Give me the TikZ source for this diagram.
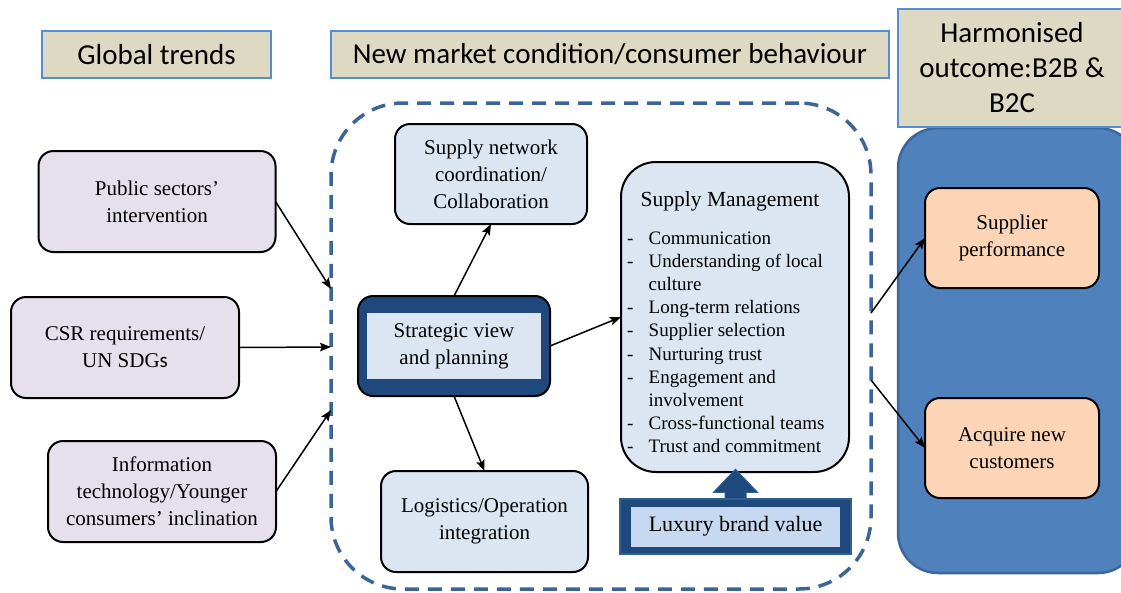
\documentclass[tikz,border=0pt]{standalone}
\usepackage{fontspec}
\setmainfont{Liberation Serif}
\newfontfamily\headfont{Carlito}
\usetikzlibrary{arrows.meta,calc}
\definecolor{hdrfill}{HTML}{DDD9C3}
\definecolor{hdrline}{HTML}{558ED5}
\definecolor{lav}{HTML}{E5E0EC}
\definecolor{lblue}{HTML}{DCE6F2}
\definecolor{dblue}{HTML}{1F497D}
\definecolor{frameblue}{HTML}{3C6496}
\definecolor{midblue}{HTML}{4F81BD}
\definecolor{midline}{HTML}{3A679C}
\definecolor{peach}{HTML}{FBD5B5}
\definecolor{luxin}{HTML}{C6D9F1}
\definecolor{luxline}{HTML}{2F5F93}
\begin{document}
\begin{tikzpicture}[x=1pt,y=-1pt,
  hdr/.style={draw=hdrline,fill=hdrfill,line width=2pt,font=\headfont\fontsize{29}{35}\selectfont,align=center,inner sep=0pt,outer sep=0pt},
  box/.style={draw=black,line width=2pt,rounded corners=15pt,align=center,font=\fontsize{21}{27}\selectfont,inner sep=0pt,outer sep=0pt},
  listfont/.style={font=\fontsize{19}{23}\selectfont,inner sep=0pt,anchor=base west},
  arr/.style={line width=1.5pt,-{Stealth[length=11pt,width=8.5pt,inset=2pt]}},
]
\useasboundingbox (0,0) rectangle (1121,592);

% right panel
\node[draw=midline,fill=midblue,line width=2.5pt,rounded corners=40pt,minimum width=240pt,minimum height=445pt] (panel) at (1018,350.5) {};

% headers
\node[hdr,minimum width=229pt,minimum height=47pt] (gt) at (156.5,54.5) {Global trends};
\node[hdr,minimum width=558pt,minimum height=47pt] (nm) at (610,54.5) {New market condition/consumer behaviour};
\node[hdr,minimum width=228pt,minimum height=118pt] (ho) at (1012,68) {Harmonised\\outcome:B2B \&\\B2C};

% dashed frame
\node[draw=frameblue,line width=3.5pt,dash pattern=on 14pt off 9pt,rounded corners=72pt,minimum width=540pt,minimum height=486pt] (frame) at (601,346) {};

% left boxes
\node[box,fill=lav,minimum width=237pt,minimum height=101pt] (pub) at (157,201.5) {Public sectors'\\intervention};
\node[box,fill=lav,minimum width=228pt,minimum height=101pt] (csr) at (125,347.5) {CSR requirements/\\UN SDG{\headfont s}};
\node[box,fill=lav,minimum width=228pt,minimum height=101pt] (info) at (162,491.5) {Information\\technology/Younger\\consumers' inclination};

% centre boxes
\node[box,fill=lblue,minimum width=192pt,minimum height=100pt] (snc) at (491,174) {Supply network\\coordination/\\Collaboration};
\node[box,fill=dblue,minimum width=192pt,minimum height=100pt] (strat) at (454,346) {};
\node[fill=lblue,minimum width=174pt,minimum height=66pt,inner sep=0pt,align=center,font=\fontsize{21}{27}\selectfont] (stratin) at (strat.center) {Strategic view\\and planning};
\node[box,fill=lblue,minimum width=207pt,minimum height=101pt] (log) at (484.5,521.5) {Logistics/Operation\\integration};

% supply management
\node[box,fill=lblue,rounded corners=35pt,minimum width=228pt,minimum height=310pt] (sm) at (735,317) {};
\node[font=\fontsize{21.5}{24}\selectfont,inner sep=0pt] (smtitle) at (730,201) {Supply Management};
\foreach \d/\t [count=\i] in {-/Communication,-/Understanding of local,/culture,-/Long-term relations,-/Supplier selection,-/Nurturing trust,-/Engagement and,/involvement,-/Cross-functional teams,-/Trust and commitment}{
  \node[listfont] (dash\i) at (627,{244+23.2*(\i-1)}) {\d};
  \node[listfont] (item\i) at (648.5,{244+23.2*(\i-1)}) {\t};
}

% luxury brand value
\node[draw=luxline,fill=dblue,line width=1.5pt,minimum width=231pt,minimum height=55pt,inner sep=0pt] (lux) at (735.5,526.5) {};
\node[fill=luxin,minimum width=209pt,minimum height=40pt,inner sep=0pt,font=\fontsize{22}{27}\selectfont] (luxin) at (lux.center) {Luxury brand value};
\draw[draw=luxline,fill=dblue,line width=1pt]
  ($(lux.north)+(-10.5,0)$) -- ($(lux.north)+(-10.5,-6)$) -- ($(lux.north)+(-22,-6)$) --
  ($(lux.north)+(0,-29)$) -- ($(lux.north)+(22,-6)$) -- ($(lux.north)+(10.5,-6)$) --
  ($(lux.north)+(10.5,0)$) -- cycle;

% outcome boxes
\node[box,fill=peach,minimum width=174pt,minimum height=100pt] (sp) at (1012,238) {Supplier\\performance};
\node[box,fill=peach,minimum width=174pt,minimum height=100pt] (anc) at (1012,448) {Acquire new\\customers};

% arrows
\coordinate (fin1) at (331,289);
\coordinate (fin2) at (331,347);
\coordinate (fin3) at (331,410);
\coordinate (fout1) at (871,313);
\coordinate (fout2) at (871,380);
\draw[arr] (pub.east) -- (fin1);
\draw[arr] (csr.east) -- (fin2);
\draw[arr] (info.east) -- (fin3);
\draw[arr] (strat.north) -- (snc.south);
\draw[arr] (strat.south) -- (log.north);
\draw[arr] (strat.east) -- (sm.west);
\draw[arr] (fout1) -- (sp.west);
\draw[arr] (fout2) -- (anc.west);
\end{tikzpicture}
\end{document}
